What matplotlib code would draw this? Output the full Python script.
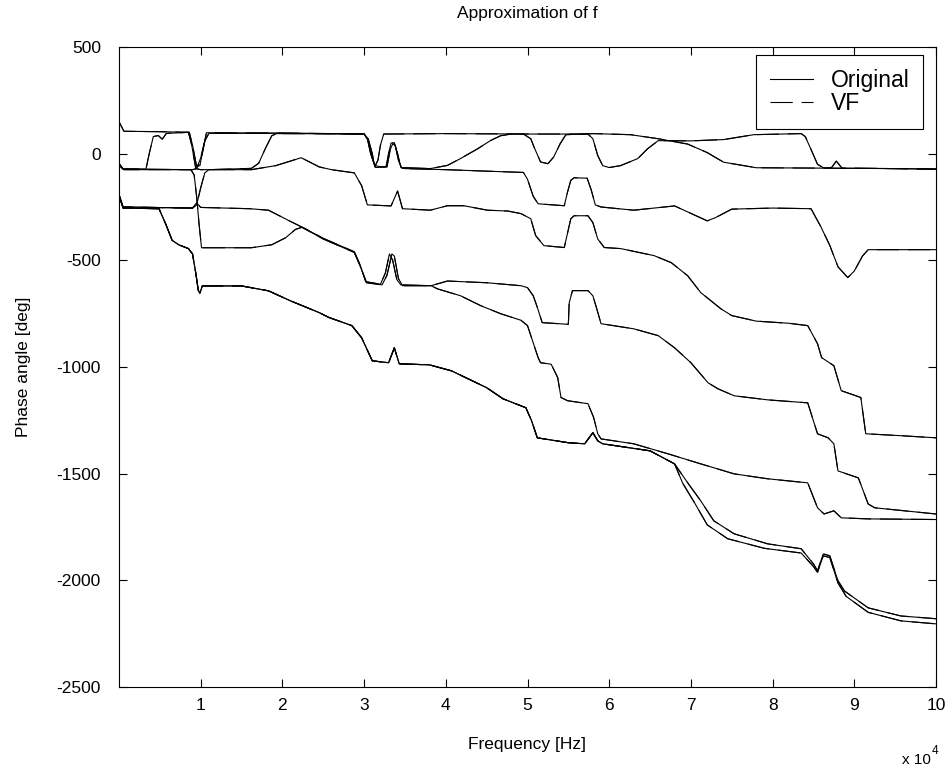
import numpy as np
import matplotlib.pyplot as plt
from matplotlib.ticker import FuncFormatter

plt.rcParams['font.family'] = ['Liberation Sans', 'DejaVu Sans']
plt.rcParams['axes.unicode_minus'] = False

# frequency in units of 1e4 Hz, phase angle in deg
z_f = [0, 0.06, 0.5, 0.86, 0.9, 0.95, 0.99, 1.03, 1.07, 2.0, 3.0, 3.05, 3.1, 3.13, 3.17, 3.2, 3.24,
       4.0, 5.0, 5.74, 5.8, 5.86, 5.92, 6.0, 6.14, 6.35, 6.47, 6.6, 7.0, 7.4, 7.77, 8.35, 8.4, 8.47,
       8.55, 8.62, 8.72, 8.78, 8.85, 9.5, 10.0]
z_ph = [150, 105, 103, 100, 40, -60, -55, 20, 98, 96, 92, 70, 0, -62, -30, 40, 92,
        94, 92, 92, 70, -9, -56, -65, -56, -23, 23, 61, 60, 66, 89, 94, 80, 20,
        -50, -66, -66, -35, -68, -70, -72]

y_f = [0, 0.06, 0.9, 0.95, 1.0, 1.05, 1.1, 2.0, 3.0, 3.04, 3.08, 3.13, 3.2, 3.27, 3.3, 3.33, 3.37,
       3.41, 3.45, 3.81, 4.02, 4.18, 4.39, 4.55, 4.67, 4.8, 4.95, 5.04, 5.08, 5.16, 5.25, 5.32, 5.4,
       5.47, 5.81, 6.26, 6.6, 6.96, 7.2, 7.4, 7.8, 8.7, 9.5, 10.0]
y_ph = [-55, -75, -75, -70, -20, 60, 95, 96, 93, 70, 0, -55, -62, -60, 0, 50, 50,
        0, -65, -70, -55, -23, 23, 62, 84, 92, 92, 70, 31, -39, -47, -16, 47,
        89, 94, 89, 70, 45, 5, -40, -66, -68, -70, -73]

w_f = [0, 0.05, 0.9, 0.95, 1.0, 1.05, 1.1, 1.62, 1.71, 1.79, 1.87, 1.93, 3.0, 3.05, 3.1, 3.14,
       3.28, 3.32, 3.35, 3.38, 3.42, 3.46, 3.5, 4.0, 4.5, 4.95, 5.0, 5.07, 5.13, 5.45, 5.49, 5.53,
       5.57, 5.73, 5.78, 5.83, 5.9, 6.3, 6.8, 7.0, 7.2, 7.3, 7.5, 8.0, 8.47, 8.59, 8.7, 8.8, 8.92,
       9.0, 9.1, 9.17, 10.0]
w_ph = [-200, -250, -255, -240, -160, -90, -75, -69, -45, 23, 84, 94, 93, 60, -20, -65,
        -62, 20, 45, 40, -30, -68, -70, -75, -82, -88, -120, -200, -235, -244, -180, -125,
        -113, -115, -170, -240, -250, -265, -245, -280, -315, -300, -260, -255, -258, -342, -430, -530, -581,
        -550, -480, -450, -450]

r1_f = [0, 0.05, 0.33, 0.37, 0.42, 0.48, 0.53, 0.58, 0.85, 0.89, 0.94, 1.0, 1.62, 1.92, 2.23, 2.45,
        2.6, 2.88, 2.97, 3.04, 3.33, 3.41, 3.47, 3.81, 4.02, 4.22, 4.51, 4.76, 4.92, 5.04, 5.1, 5.2,
        5.45, 5.53, 5.57, 5.74, 5.8, 5.86, 5.94, 6.14, 6.55, 6.76, 6.96, 7.12, 7.37, 7.5, 7.8, 8.2,
        8.43, 8.55, 8.6, 8.75, 8.84, 9.08, 9.14, 9.57, 10.0]
r1_ph = [-50, -72, -72, 0, 80, 85, 68, 95, 100, 40, -70, -75, -75, -56, -19, -62,
         -75, -90, -150, -240, -245, -175, -258, -265, -244, -244, -265, -269, -281, -305, -384, -431,
         -440, -305, -291, -291, -323, -400, -440, -445, -478, -511, -572, -651, -728, -759, -785, -795,
         -806, -891, -956, -994, -1111, -1143, -1313, -1322, -1332]

a_f = [0, 0.05, 0.9, 0.95, 1.0, 1.6, 1.83, 2.08, 2.28, 2.5, 2.7, 2.88, 2.95, 3.02, 3.2, 3.26,
       3.31, 3.35, 3.4, 3.45, 3.82, 3.9, 4.18, 4.43, 4.67, 4.92, 5.0, 5.13, 5.16, 5.29, 5.37, 5.41,
       5.49, 5.74, 5.81, 5.86, 5.9, 6.3, 6.72, 7.12, 7.53, 7.94, 8.43, 8.55, 8.63, 8.75, 8.84, 9.17, 10.0]
a_ph = [-190, -250, -255, -230, -252, -258, -265, -314, -352, -397, -430, -460, -520, -600, -612, -560,
        -470, -500, -590, -615, -619, -634, -666, -713, -750, -781, -806, -956, -980, -987, -1050, -1143,
        -1158, -1172, -1237, -1313, -1337, -1360, -1407, -1454, -1501, -1524, -1543, -1660, -1689, -1674,
        -1707, -1712, -1715]

b_f = [0, 0.05, 0.88, 0.92, 0.95, 0.98, 1.01, 1.62, 1.87, 2.04, 2.16, 2.24, 2.5, 2.7, 2.88, 2.95,
       3.03, 3.22, 3.28, 3.34, 3.37, 3.42, 3.47, 3.82, 4.02, 4.5, 4.92, 5.0, 5.07, 5.12, 5.18, 5.5,
       5.51, 5.55, 5.74, 5.8, 5.85, 5.9, 6.3, 6.6, 6.8, 7.0, 7.21, 7.33, 7.53, 7.94, 8.43, 8.55,
       8.68, 8.75, 8.8, 9.05, 9.17, 9.25, 10.0]
b_ph = [-45, -72, -75, -100, -200, -330, -441, -441, -427, -394, -355, -345, -400, -433, -463, -525,
        -605, -615, -570, -470, -480, -585, -619, -619, -597, -605, -619, -628, -666, -720, -792, -800,
        -700, -642, -642, -666, -730, -797, -821, -853, -910, -980, -1074, -1102, -1135, -1154, -1168, -1313,
        -1332, -1360, -1487, -1520, -1642, -1660, -1689]

# lowest pair shares one path up to ~6.8e4 Hz
low_f = [0, 0.05, 0.49, 0.57, 0.65, 0.73, 0.85, 0.9, 0.94, 0.97, 0.99, 1.02, 1.5, 1.83, 2.1, 2.45,
         2.57, 2.85, 2.97, 3.1, 3.3, 3.37, 3.43, 3.8, 4.07, 4.5, 4.7, 4.98, 5.05, 5.12, 5.5, 5.7,
         5.8, 5.86, 5.92, 6.5, 6.8]
low_ph = [-195, -255, -258, -328, -406, -427, -445, -470, -560, -640, -655, -620, -620, -643, -690, -745,
          -768, -806, -863, -971, -980, -910, -985, -990, -1018, -1097, -1149, -1191, -1252, -1332, -1355, -1360,
          -1308, -1346, -1360, -1393, -1454]
tail4_f = [6.97, 7.12, 7.28, 7.53, 7.94, 8.35, 8.5, 8.55, 8.62, 8.7, 8.8, 8.88, 9.17, 9.57, 10.0]
tail4_ph = [-1548, -1627, -1721, -1782, -1829, -1852, -1923, -1955, -1876, -1885, -2002, -2050, -2129, -2167, -2180]
tail5_f = [6.9, 7.05, 7.2, 7.45, 7.9, 8.35, 8.5, 8.55, 8.62, 8.7, 8.8, 8.9, 9.17, 9.57, 10.0]
tail5_ph = [-1545, -1640, -1740, -1805, -1850, -1872, -1935, -1962, -1885, -1893, -2012, -2075, -2150, -2190, -2204]

curves = [(z_f, z_ph), (y_f, y_ph), (w_f, w_ph), (r1_f, r1_ph), (a_f, a_ph), (b_f, b_ph),
          (low_f + tail4_f, low_ph + tail4_ph), (low_f + tail5_f, low_ph + tail5_ph)]

fig = plt.figure(figsize=(9.51, 7.71), dpi=100)
ax = fig.add_axes([119/951, 1 - 687/771, 817/951, 640/771])

for f, ph in curves:
    l_orig, = ax.plot(np.array(f)*1e4, ph, color='k', lw=0.8)
# VF fit lies on top of the original
for f, ph in curves:
    l_vf, = ax.plot(np.array(f)*1e4, ph, color='k', lw=0.8, ls=(0, (20, 8)))

ax.set_xlim(0, 1e5)
ax.set_ylim(-2500, 500)
ax.set_xticks(np.arange(1, 11)*1e4)
ax.set_yticks(np.arange(-2500, 501, 500))
ax.xaxis.set_major_formatter(FuncFormatter(lambda v, p: '%g' % (v/1e4)))
ax.tick_params(direction='in', top=True, right=True, length=6, width=0.8, labelsize=12.5)
ax.tick_params(axis='x', pad=8)
ax.tick_params(axis='y', pad=13)
for s in ax.spines.values():
    s.set_linewidth(0.8)

ax.set_title('Approximation of f', fontsize=12.5, pad=21)
ax.set_xlabel('Frequency [Hz]', fontsize=12.5)
ax.set_ylabel('Phase angle [deg]', fontsize=12.5)
ax.xaxis.set_label_coords(0.5, -(737 - 687)/640)
ax.yaxis.set_label_coords(-(119 - 31)/817, 0.5)

fig.text(902/951, 1 - 764/771, 'x 10', fontsize=11, va='baseline')
fig.text(932/951, 1 - 754/771, '4', fontsize=8.5, va='baseline')

leg = ax.legend([l_orig, l_vf], ['Original', 'VF'], loc='upper right',
                bbox_to_anchor=(923/951, 1 - 55/771), bbox_transform=fig.transFigure,
                borderaxespad=0, fancybox=False, edgecolor='k', framealpha=1,
                fontsize=16.5, handlelength=1.9, handletextpad=0.75, borderpad=0.6,
                labelspacing=0.0)
leg.get_frame().set_linewidth(0.8)

fig.savefig('out.png', dpi=100)
